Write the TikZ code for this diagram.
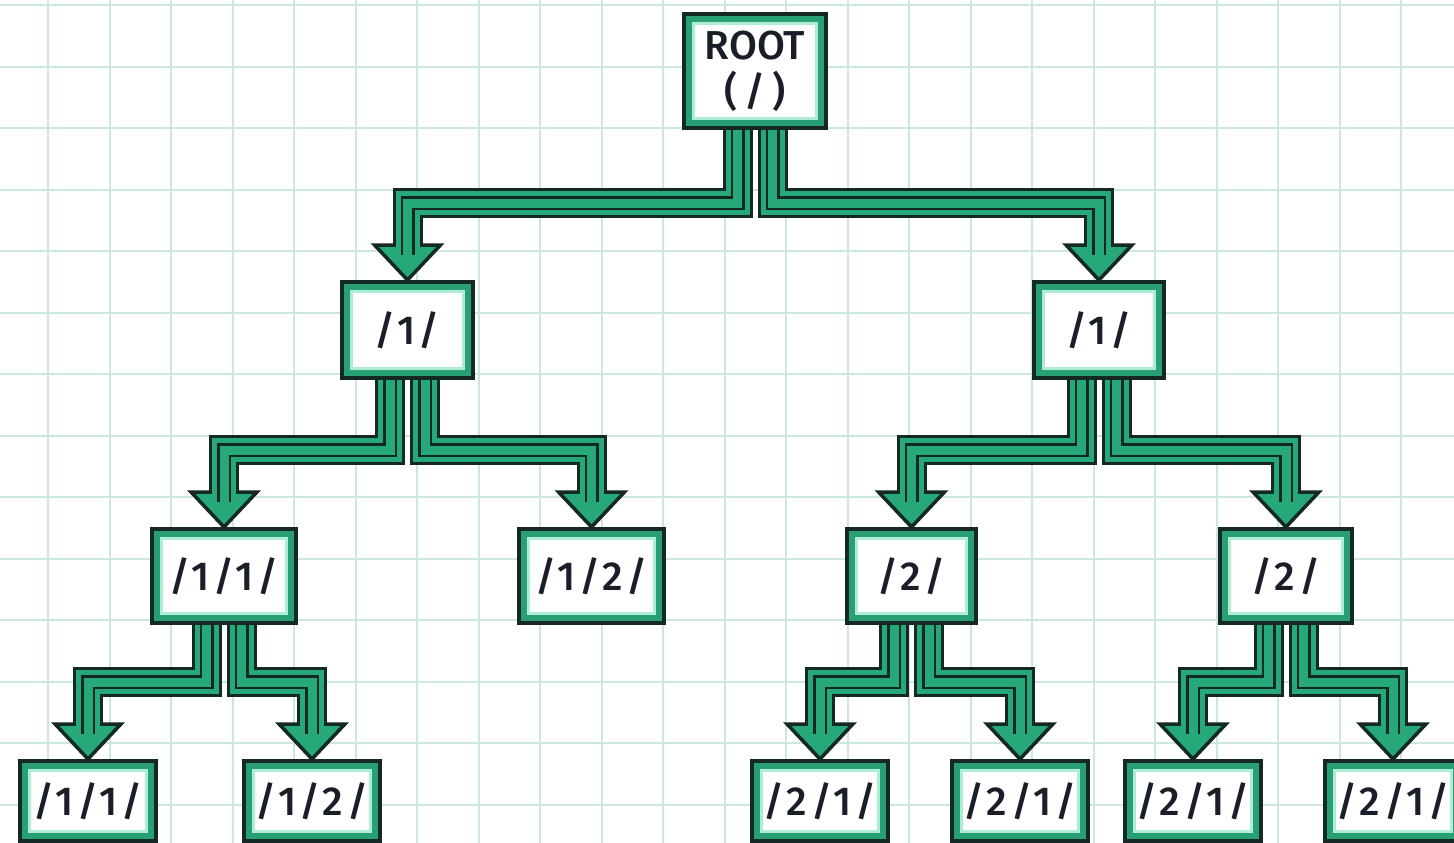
\documentclass[tikz,border=0pt]{standalone}
\usepackage{fontspec}
\setmainfont{Fira Sans Medium}
\newfontfamily\pathfont[LetterSpace=9]{Fira Sans Medium}

\definecolor{edge}{RGB}{20,40,38}
\definecolor{arrowgreen}{RGB}{38,168,120}
\definecolor{boxgreen}{RGB}{40,160,115}
\definecolor{mint}{RGB}{175,236,212}
\definecolor{gridc}{RGB}{205,230,225}
\definecolor{ink}{RGB}{25,30,40}

\begin{document}
\begin{tikzpicture}[
    box/.style={draw=edge, line width=0.4mm, fill=boxgreen, text=ink, inner sep=0pt,
      font=\pathfont\fontsize{11.5}{13}\selectfont, align=center,
      path picture={\draw[mint, fill=white, line width=0.3mm]
        ([shift={(0.95mm,0.95mm)}]path picture bounding box.south west) rectangle
        ([shift={(-0.95mm,-0.95mm)}]path picture bounding box.north east);}},
    shaft/.style={draw=edge, line width=3mm,
      postaction={draw=arrowgreen, line width=2.4mm, shorten >=-0.5mm},
      postaction={draw=edge, line width=0.25mm, double=arrowgreen, double distance=0.9mm, shorten >=-1mm}},
    head/.style={draw=edge, fill=arrowgreen, line width=0.35mm, line join=miter}
  ]
  \useasboundingbox (0,0) rectangle (14.54,-8.43);
  \clip (0,0) rectangle (14.54,-8.43);
  \fill[white] (0,0) rectangle (14.54,-8.43);

  % grid paper
  \foreach \i in {0,...,22}
    \draw[gridc, line width=0.2mm] ({0.48+0.615*\i},0) -- ++(0,-8.43);
  \foreach \j in {0,...,13}
    \draw[gridc, line width=0.2mm] (0,{-0.05-0.615*\j}) -- ++(14.54,0);

  % directory boxes
  \node[box, minimum width=1.42cm, minimum height=1.14cm] (root) at (7.55,-0.71)
    {\rmfamily\fontsize{11.5}{13}\selectfont ROOT\\(\,/\,)};
  \node[box, minimum width=1.31cm, minimum height=0.96cm] (a) at (4.075,-3.30) {/1/};
  \node[box, minimum width=1.30cm, minimum height=0.96cm] (b) at (10.99,-3.30) {/1/};
  \node[box, minimum width=1.44cm, minimum height=0.94cm] (aa) at (2.24,-5.76) {/1/1/};
  \node[box, minimum width=1.45cm, minimum height=0.94cm] (ab) at (5.915,-5.76) {/1/2/};
  \node[box, minimum width=1.29cm, minimum height=0.94cm] (ba) at (9.115,-5.76) {/2/};
  \node[box, minimum width=1.32cm, minimum height=0.94cm] (bb) at (12.86,-5.76) {/2/};
  \node[box, minimum width=1.36cm, minimum height=0.80cm] (aaa) at (0.88,-8.01) {/1/1/};
  \node[box, minimum width=1.36cm, minimum height=0.80cm] (aab) at (3.12,-8.01) {/1/2/};
  \node[box, minimum width=1.36cm, minimum height=0.80cm] (baa) at (8.20,-8.01) {/2/1/};
  \node[box, minimum width=1.36cm, minimum height=0.80cm] (bab) at (10.20,-8.01) {/2/1/};
  \node[box, minimum width=1.36cm, minimum height=0.80cm] (bba) at (11.93,-8.01) {/2/1/};
  \node[box, minimum width=1.36cm, minimum height=0.80cm] (bbb) at (13.93,-8.01) {/2/1/};

  % fat elbow arrows
  \foreach \s/\t/\o in {root/a/-1.75,root/b/1.75,a/aa/-1.75,a/ab/1.75,b/ba/-1.75,b/bb/1.75,
      aa/aaa/-1.75,aa/aab/1.75,ba/baa/-1.75,ba/bab/1.75,bb/bba/-1.75,bb/bbb/1.75}
  {
    \filldraw[head] ([shift={(-3.3mm,3.5mm)}]\t.north) -- ([shift={(3.3mm,3.5mm)}]\t.north) -- (\t.north) -- cycle;
    \draw[shaft] ([xshift=\o mm]\s.south) |- ([yshift=7.7mm]\t.north) -- ([yshift=3.5mm]\t.north);
  }
\end{tikzpicture}
\end{document}
